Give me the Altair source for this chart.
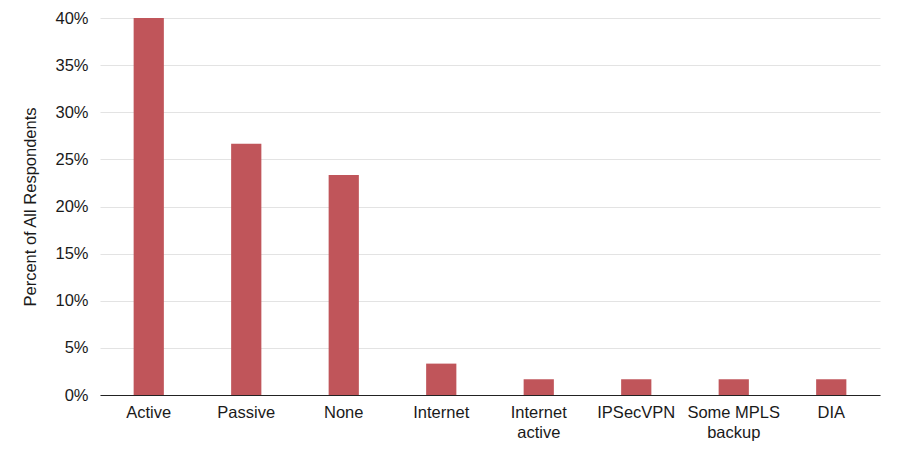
import altair as alt
import pandas as pd

categories = ["Active", "Passive", "None", "Internet", "Internet\nactive", "IPSecVPN", "Some MPLS\nbackup", "DIA"]
values = [0.40, 0.2667, 0.2333, 0.0333, 0.0167, 0.0167, 0.0167, 0.0167]
y_ticks = [0, 0.05, 0.10, 0.15, 0.20, 0.25, 0.30, 0.35, 0.40]

df = pd.DataFrame({"cat": categories, "val": values})

font = "Liberation Sans"

chart = alt.Chart(df).mark_bar(color="#c0555a").encode(
    x=alt.X("cat:N", sort=categories, title=None,
            scale=alt.Scale(paddingInner=0.69, paddingOuter=0.345),
            axis=alt.Axis(labelAngle=0, labelExpr="split(datum.label, '\\n')",
                          labelFontSize=16.5, labelFont=font, labelColor="#1a1a1a",
                          labelPadding=9, ticks=False, domainColor="#222",
                          labelLineHeight=20)),
    y=alt.Y("val:Q", title="Percent of All Respondents",
            scale=alt.Scale(domain=[0, 0.4], nice=False),
            axis=alt.Axis(values=y_ticks, format=".0%", ticks=False, domain=False,
                          labelFontSize=16.5, labelFont=font, labelColor="#1a1a1a",
                          labelPadding=12, gridColor="#e3e3e3",
                          titleFont=font, titleFontSize=16.5, titleFontWeight="normal",
                          titleColor="#1a1a1a", titlePadding=16)),
).properties(
    width=780, height=377,
    autosize=alt.AutoSizeParams(type="none"),
    padding={"left": 92, "top": 10, "right": 12, "bottom": 50},
).configure_view(stroke=None)

chart.save("out.html", embed_options={"renderer": "svg", "actions": False})
